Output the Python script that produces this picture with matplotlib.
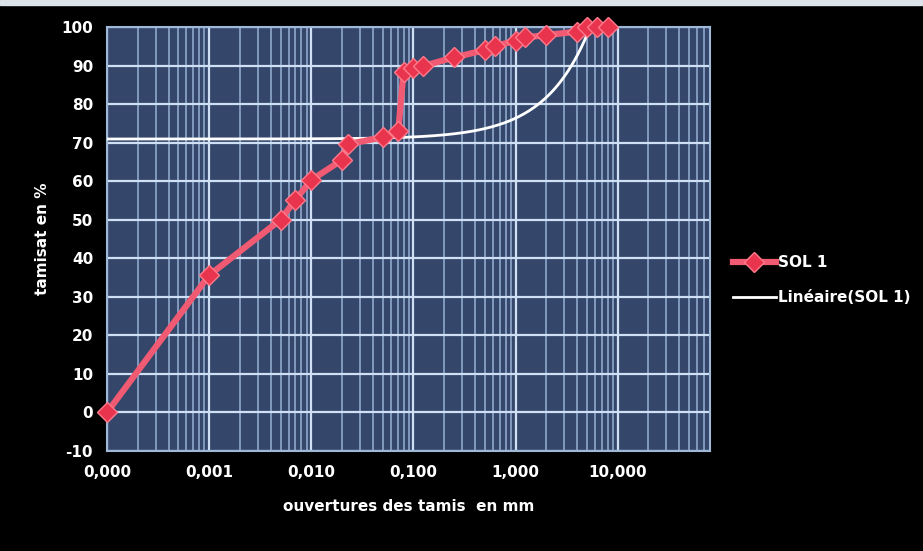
import numpy as np
import matplotlib.pyplot as plt
from matplotlib.ticker import FuncFormatter, LogLocator, MultipleLocator
from matplotlib.patches import Rectangle

plt.rcParams['axes.unicode_minus'] = False

# ouvertures des tamis (mm) et tamisat (%)
ouvertures = [0.0001, 0.001, 0.005, 0.007, 0.01, 0.02, 0.023, 0.05, 0.071, 0.08,
              0.1, 0.125, 0.25, 0.5, 0.63, 1.0, 1.25, 2.0, 4.0, 5.0, 6.3, 8.0]
tamisat = [0.0, 35.6, 50.0, 55.2, 60.3, 65.5, 69.6, 71.4, 73.0, 88.4,
           89.3, 89.9, 92.1, 94.0, 95.1, 96.4, 97.3, 97.9, 98.8, 100.0, 100.0, 100.0]

serie_nom = 'SOL 1'
tendance_nom = 'Linéaire(SOL 1)'

fond = '#34476a'
rouge_ligne = '#f05a72'
rouge_point = '#e8344c'

fig = plt.figure(figsize=(9.23, 5.51), dpi=100, facecolor='black')
ax = fig.add_axes([107 / 923, 1 - 451 / 551, 603 / 923, 424 / 551])
ax.set_facecolor(fond)

# courbe granulometrique
ax.plot(ouvertures, tamisat, color=rouge_ligne, lw=4.5, marker='D', ms=10,
        mfc=rouge_point, mec='#ff7a8a', mew=1, label=serie_nom, zorder=4,
        solid_joinstyle='round', clip_on=False)

# courbe de tendance lineaire (y = a*x + b) sur axe log
pente, ordonnee = np.polyfit(ouvertures, tamisat, 1)
xt = np.logspace(np.log10(ouvertures[0]), np.log10(ouvertures[-1]), 300)
ax.plot(xt, pente * xt + ordonnee, color='white', lw=2, label=tendance_nom, zorder=3)

ax.set_xscale('log')
ax.set_xlim(1e-4, 80)
ax.set_ylim(-10, 100)
ax.xaxis.set_major_locator(LogLocator(base=10, numticks=10))
ax.xaxis.set_minor_locator(LogLocator(base=10, subs=np.arange(2, 10), numticks=20))
ax.yaxis.set_major_locator(MultipleLocator(10))
ax.xaxis.set_major_formatter(FuncFormatter(lambda v, p: f'{v:.3f}'.replace('.', ',') if v < 50 else ''))

ax.grid(True, which='major', color='#cfe0f4', lw=1.6)
ax.grid(True, which='minor', axis='x', color='#86a0c4', lw=1.3)
ax.set_axisbelow(True)
for s in ax.spines.values():
    s.set_color('#9fb8d8')
    s.set_linewidth(1.5)

ax.tick_params(which='both', length=0, colors='white', labelsize=11, pad=10)
for lab in ax.get_xticklabels() + ax.get_yticklabels():
    lab.set_fontweight('bold')

ax.set_xlabel('ouvertures des tamis  en mm', color='white', fontsize=11,
              fontweight='bold', labelpad=14)
ax.set_ylabel('tamisat en %', color='white', fontsize=11, fontweight='bold', labelpad=8)

leg = fig.legend(loc='center left', bbox_to_anchor=(719 / 923, 1 - 280 / 551),
                 frameon=False, fontsize=11, handlelength=2.8, labelspacing=1.3,
                 handletextpad=0.15)
for t in leg.get_texts():
    t.set_color('white')
    t.set_fontweight('bold')

# liseré clair en haut
fig.patches.append(Rectangle((0, 1 - 5 / 551), 1, 5 / 551, transform=fig.transFigure,
                             color='#dde3ea', zorder=0))

fig.savefig('out.png', dpi=100, facecolor='black')
